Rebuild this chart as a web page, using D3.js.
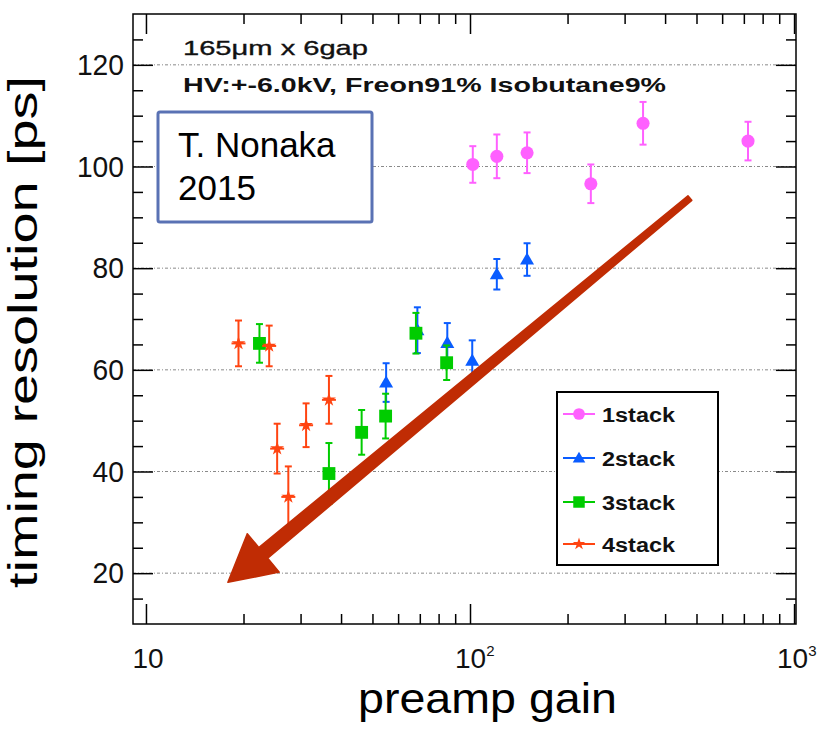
<!DOCTYPE html>
<html>
<head>
<meta charset="utf-8">
<script src="https://cdn.jsdelivr.net/npm/d3@7"></script>
<style>
  html, body { margin: 0; padding: 0; background: #fff; }
  svg { display: block; font-family: "Liberation Sans", Arial, Helvetica, sans-serif; }
</style>
</head>
<body>
<svg id="chart" width="819" height="737"></svg>
<script>
// ---------------- data ----------------
const seriesNames = ["1stack", "2stack", "3stack", "4stack"];
const seriesColors = ["#ff60ff", "#0a5cff", "#00cc00", "#ff4411"];

const stack1Gain = [102, 121, 150, 236, 342, 721];
const stack1Res  = [100.4, 102.0, 102.7, 96.6, 108.5, 105.0];
const stack1Err  = [3.6, 4.3, 4.0, 3.8, 4.2, 3.8];

const stack2Gain = [55.1, 68.8, 85.1, 101.6, 121, 150];
const stack2Res  = [57.5, 67.8, 65.3, 61.8, 78.8, 81.7];
const stack2Err  = [3.8, 4.5, 3.9, 4.0, 3.0, 3.2];

const stack3Gain = [22.4, 36.7, 46.3, 54.9, 68.1, 84.7];
const stack3Res  = [65.2, 39.6, 47.7, 50.9, 67.2, 61.4];
const stack3Err  = [3.8, 6.0, 4.4, 4.4, 4.0, 3.4];

const stack4Gain = [19.3, 24.0, 25.4, 27.5, 31.2, 36.7];
const stack4Res  = [65.2, 64.7, 44.5, 35.0, 49.1, 54.1];
const stack4Err  = [4.5, 4.0, 4.9, 6.0, 4.3, 4.7];

const xRange = [9.12, 1014];
const yRange = [10, 130];
const xMajorTicks = [10, 100, 1000];
const xMinorTicks = [20, 30, 40, 50, 60, 70, 80, 90, 200, 300, 400, 500, 600, 700, 800, 900];
const xTickBase = ["10", "10", "10"];
const xTickExp = ["", "2", "3"];
const yMajorTicks = [20, 40, 60, 80, 100, 120];
const yMinorTicks = [15, 25, 30, 35, 45, 50, 55, 65, 70, 75, 85, 90, 95, 105, 110, 115, 125];

// arrow annotation in data coordinates: [gain, resolution]
const arrowStart = [477, 93.8];
const arrowTip = [17.9, 18.2];

const headerLine1 = "165\u03bcm x 6gap";
const headerLine2 = "HV:+-6.0kV, Freon91% Isobutane9%";
const noteLines = ["T. Nonaka", "2015"];
const xTitle = "preamp gain";
const yTitle = "timing resolution [ps]";

// ---------------- layout ----------------
const frame = { left: 133, right: 796, top: 14, bottom: 624 };
const svg = d3.select("#chart");

const x = d3.scaleLog().domain(xRange).range([frame.left, frame.right]);
const y = d3.scaleLinear().domain(yRange).range([frame.bottom, frame.top]);

// grid
svg.append("g").selectAll("line").data(yMajorTicks).join("line")
  .attr("x1", frame.left).attr("x2", frame.right)
  .attr("y1", d => y(d)).attr("y2", d => y(d))
  .attr("stroke", "#8a8a8a").attr("stroke-width", 1)
  .attr("stroke-dasharray", "3,2,1,2");

// axes
function styleAxis(g) {
  g.selectAll("path.domain").remove();
  g.selectAll("line").attr("stroke", "#000").attr("stroke-width", 1.5);
}
const major = 20, minor = 10;
// bottom
svg.append("g").attr("transform", `translate(0,${frame.bottom})`)
  .call(d3.axisBottom(x).tickValues(xMajorTicks).tickSize(-major).tickFormat(""))
  .call(styleAxis);
svg.append("g").attr("transform", `translate(0,${frame.bottom})`)
  .call(d3.axisBottom(x).tickValues(xMinorTicks).tickSize(-minor).tickFormat(""))
  .call(styleAxis);
// top
svg.append("g").attr("transform", `translate(0,${frame.top})`)
  .call(d3.axisTop(x).tickValues(xMajorTicks).tickSize(-major).tickFormat(""))
  .call(styleAxis);
svg.append("g").attr("transform", `translate(0,${frame.top})`)
  .call(d3.axisTop(x).tickValues(xMinorTicks).tickSize(-minor).tickFormat(""))
  .call(styleAxis);
// left
const yAxisG = svg.append("g").attr("transform", `translate(${frame.left},0)`)
  .call(d3.axisLeft(y).tickValues(yMajorTicks).tickSize(-major).tickPadding(9).tickFormat(d3.format("d")))
  .call(styleAxis);
yAxisG.selectAll("text").attr("font-size", 30).attr("fill", "#111")
  .attr("font-family", "Liberation Sans, Arial, sans-serif")
  .attr("textLength", d => String(d).length * 15.7).attr("lengthAdjust", "spacingAndGlyphs");
svg.append("g").attr("transform", `translate(${frame.left},0)`)
  .call(d3.axisLeft(y).tickValues(yMinorTicks).tickSize(-minor).tickFormat(""))
  .call(styleAxis);
// right
svg.append("g").attr("transform", `translate(${frame.right},0)`)
  .call(d3.axisRight(y).tickValues(yMajorTicks).tickSize(-major).tickFormat(""))
  .call(styleAxis);
svg.append("g").attr("transform", `translate(${frame.right},0)`)
  .call(d3.axisRight(y).tickValues(yMinorTicks).tickSize(-minor).tickFormat(""))
  .call(styleAxis);

// frame
svg.append("rect")
  .attr("x", frame.left).attr("y", frame.top)
  .attr("width", frame.right - frame.left).attr("height", frame.bottom - frame.top)
  .attr("fill", "none").attr("stroke", "#000").attr("stroke-width", 1.5);

// x tick labels with superscripts
const xl = svg.append("g").attr("font-size", 28).attr("fill", "#111");
xMajorTicks.forEach((v, i) => {
  const t = xl.append("text").attr("y", 668);
  t.append("tspan").text(xTickBase[i]);
  if (xTickExp[i]) {
    t.append("tspan").attr("font-size", 15).attr("dy", -12).text(xTickExp[i]);
    t.attr("x", Math.min(x(v) - 15, 819 - 42)).attr("text-anchor", "start");
  } else {
    t.attr("x", x(v) + 2).attr("text-anchor", "middle");
  }
});

// axis titles
svg.append("text")
  .attr("x", (frame.left + frame.right) / 2 + 23).attr("y", 713)
  .attr("text-anchor", "middle").attr("font-size", 43).attr("fill", "#000")
  .attr("textLength", 259).attr("lengthAdjust", "spacingAndGlyphs")
  .text(xTitle);
svg.append("text")
  .attr("transform", "translate(37,332) rotate(-90)")
  .attr("text-anchor", "middle").attr("font-size", 40).attr("fill", "#000")
  .attr("textLength", 512).attr("lengthAdjust", "spacingAndGlyphs")
  .text(yTitle);

// header text
svg.append("text").attr("x", 183).attr("y", 55).attr("font-size", 21)
  .attr("fill", "#111").attr("stroke", "#111").attr("stroke-width", 0.35)
  .attr("textLength", 185).attr("lengthAdjust", "spacingAndGlyphs")
  .text(headerLine1);
svg.append("text").attr("x", 183).attr("y", 92).attr("font-size", 20)
  .attr("font-weight", "bold").attr("fill", "#111")
  .attr("textLength", 483).attr("lengthAdjust", "spacingAndGlyphs")
  .text(headerLine2);

// ---------------- data marks ----------------
const series = [
  { gain: stack1Gain, res: stack1Res, err: stack1Err, symbol: d3.symbolCircle, size: 135 },
  { gain: stack2Gain, res: stack2Res, err: stack2Err, symbol: d3.symbolTriangle, size: 85 },
  { gain: stack3Gain, res: stack3Res, err: stack3Err, symbol: d3.symbolSquare, size: 165 },
  { gain: stack4Gain, res: stack4Res, err: stack4Err, symbol: d3.symbolStar, size: 60 }
];

series.forEach((s, si) => {
  const color = seriesColors[si];
  const pts = s.gain.map((g, i) => ({ g, r: s.res[i], e: s.err[i] }));
  const g = svg.append("g");
  // error bars
  g.selectAll("line.eb").data(pts).join("line").attr("class", "eb")
    .attr("x1", d => x(d.g)).attr("x2", d => x(d.g))
    .attr("y1", d => y(d.r - d.e)).attr("y2", d => y(d.r + d.e))
    .attr("stroke", color).attr("stroke-width", 2);
  ["lo", "hi"].forEach(k => {
    g.selectAll("line.cap" + k).data(pts).join("line").attr("class", "cap" + k)
      .attr("x1", d => x(d.g) - 3.5).attr("x2", d => x(d.g) + 3.5)
      .attr("y1", d => y(k === "lo" ? d.r - d.e : d.r + d.e))
      .attr("y2", d => y(k === "lo" ? d.r - d.e : d.r + d.e))
      .attr("stroke", color).attr("stroke-width", 2);
  });
  // markers
  g.selectAll("path.mk").data(pts).join("path").attr("class", "mk")
    .attr("transform", d => `translate(${x(d.g)},${y(d.r) + (si === 1 ? 1 : 0)})`)
    .attr("d", d3.symbol().type(s.symbol).size(s.size))
    .attr("fill", color);
  if (si === 3) {
    g.selectAll("line.st").data(pts).join("line").attr("class", "st")
      .attr("x1", d => x(d.g) - 7).attr("x2", d => x(d.g) + 7)
      .attr("y1", d => y(d.r)).attr("y2", d => y(d.r))
      .attr("stroke", color).attr("stroke-width", 2);
  }
});

// ---------------- arrow ----------------
(function drawArrow() {
  const sx = x(arrowStart[0]), sy = y(arrowStart[1]);
  const tx = x(arrowTip[0]), ty = y(arrowTip[1]);
  const dx = tx - sx, dy = ty - sy, L = Math.hypot(dx, dy);
  const ux = dx / L, uy = dy / L, nx = -uy, ny = ux;
  const headLen = 46, headHalf = 25, w0 = 3, w1 = 7;
  const bx = tx - ux * headLen, by = ty - uy * headLen;
  const pts = [
    [sx + nx * w0, sy + ny * w0],
    [bx + nx * w1, by + ny * w1],
    [bx + nx * headHalf, by + ny * headHalf],
    [tx, ty],
    [bx - nx * headHalf, by - ny * headHalf],
    [bx - nx * w1, by - ny * w1],
    [sx - nx * w0, sy - ny * w0]
  ];
  svg.append("path")
    .attr("d", d3.line()(pts) + "Z")
    .attr("fill", "#c02c04").attr("stroke", "#c02c04").attr("stroke-width", 1.5)
    .attr("stroke-linejoin", "round");
})();

// ---------------- note box ----------------
svg.append("rect").attr("x", 158).attr("y", 112).attr("width", 214).attr("height", 110)
  .attr("rx", 2).attr("fill", "#fff").attr("stroke", "#5a72b4").attr("stroke-width", 3);
noteLines.forEach((t, i) => {
  svg.append("text").attr("x", 178).attr("y", 157 + i * 43)
    .attr("font-size", 35).attr("fill", "#000").text(t);
});

// ---------------- legend ----------------
const leg = svg.append("g");
leg.append("rect").attr("x", 557).attr("y", 392).attr("width", 161).attr("height", 173)
  .attr("fill", "#fff").attr("stroke", "#000").attr("stroke-width", 2);
const legY = [414, 458, 502, 544];
seriesNames.forEach((name, i) => {
  const cy = legY[i];
  const color = seriesColors[i];
  leg.append("line").attr("x1", 563).attr("x2", 595).attr("y1", cy).attr("y2", cy)
    .attr("stroke", color).attr("stroke-width", 2);
  leg.append("path").attr("transform", `translate(579,${cy + (i === 1 ? 1 : 0)})`)
    .attr("d", d3.symbol().type(series[i].symbol).size(series[i].size * 0.8))
    .attr("fill", color);
  leg.append("text").attr("x", 602).attr("y", cy + 7.5)
    .attr("font-size", 20).attr("font-weight", "bold").attr("fill", "#111")
    .attr("textLength", 73).attr("lengthAdjust", "spacingAndGlyphs")
    .text(name);
});
</script>
</body>
</html>
